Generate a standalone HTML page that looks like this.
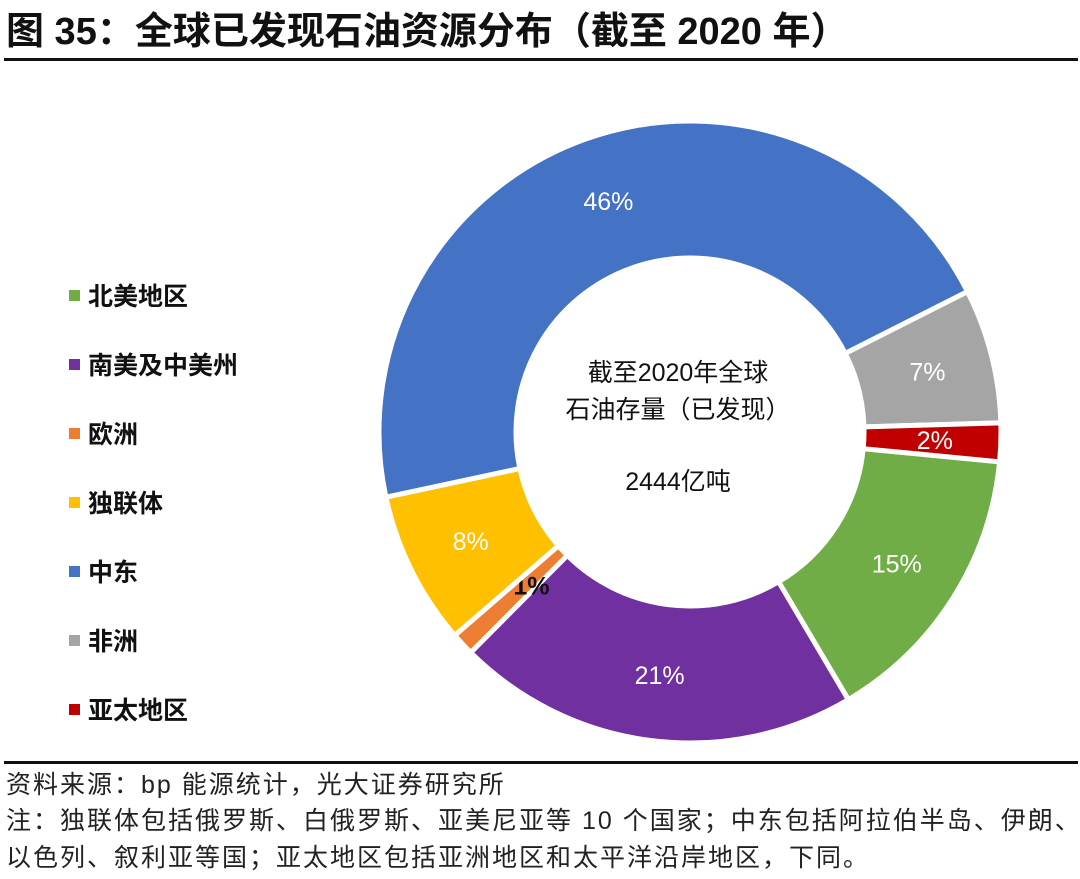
<!DOCTYPE html>
<html><head><meta charset="utf-8">
<style>
body{margin:0;width:1080px;height:879px;background:#fff;overflow:hidden;font-family:"Liberation Sans","Noto Sans CJK SC",sans-serif;}
.abs{position:absolute;white-space:nowrap;}
</style></head><body>
<div class="abs" style="left:6px;top:0px;font-size:38px;font-weight:bold;color:#111;">图 35：全球已发现石油资源分布（截至 2020 年）</div>
<div class="abs" style="left:4px;top:58px;width:1074px;height:3px;background:#111;"></div>
<svg class="abs" id="chart" style="left:0;top:0" width="1080" height="760"></svg>
<div class="abs" style="left:4px;top:761px;width:1074px;height:3px;background:#111;"></div>
<div class="abs" style="left:6px;top:765px;font-size:25px;letter-spacing:2px;color:#222;">资料来源：bp 能源统计，光大证券研究所</div>
<div class="abs" style="left:6px;top:801px;font-size:25px;letter-spacing:2px;color:#222;">注：独联体包括俄罗斯、白俄罗斯、亚美尼亚等 10 个国家；中东包括阿拉伯半岛、伊朗、</div>
<div class="abs" style="left:6px;top:838px;font-size:25px;letter-spacing:2px;color:#222;">以色列、叙利亚等国；亚太地区包括亚洲地区和太平洋沿岸地区，下同。</div>
<script>
const categories=["北美地区","南美及中美州","欧洲","独联体","中东","非洲","亚太地区"];
const values=[15,21,1.2,8,46,7,2];
const labels=["15%","21%","1%","8%","46%","7%","2%"];
const colors=["#70ad47","#7030a0","#ed7d31","#ffc000","#4472c4","#a5a5a5","#c00000"];
const svg=document.getElementById('chart');
const NS='http://www.w3.org/2000/svg';
const cx=690,cy=432,R=311,r=174,start=95.5;
const total=values.reduce((a,b)=>a+b,0);
function pt(a,rad){const t=a*Math.PI/180;return [cx+rad*Math.sin(t),cy-rad*Math.cos(t)];}
let a=start;
values.forEach((v,i)=>{
  const sweep=v/total*360,a2=a+sweep,lg=sweep>180?1:0;
  const p1=pt(a,R),p2=pt(a2,R),p3=pt(a2,r),p4=pt(a,r);
  const path=document.createElementNS(NS,'path');
  path.setAttribute('d',`M${p1[0]},${p1[1]} A${R},${R} 0 ${lg} 1 ${p2[0]},${p2[1]} L${p3[0]},${p3[1]} A${r},${r} 0 ${lg} 0 ${p4[0]},${p4[1]} Z`);
  path.setAttribute('fill',colors[i]);path.setAttribute('stroke','#fff');path.setAttribute('stroke-width','5');
  
  
  svg.appendChild(path);
  const mid=(a+a2)/2;const lp=pt(mid,i===2?225:245);
  const t=document.createElementNS(NS,'text');
  t.setAttribute('x',i===2?lp[0]+6:lp[0]);t.setAttribute('y',lp[1]+9);t.setAttribute('text-anchor','middle');
  t.setAttribute('font-size','25');t.setAttribute('fill',i===2?'#111':'#fff');
  if(i===2)t.setAttribute('font-weight','bold');
  t.textContent=labels[i];
  
  
  svg.appendChild(t);
  a=a2;
});
const center=[["截至2020年全球",381],["石油存量（已发现）",418],["2444亿吨",490]];
center.forEach((c,i)=>{const t=document.createElementNS(NS,'text');t.setAttribute('x',cx-12);t.setAttribute('y',c[1]);t.setAttribute('text-anchor','middle');t.setAttribute('font-size','25');t.setAttribute('fill','#111');t.textContent=c[0];


svg.appendChild(t);});
categories.forEach((c,i)=>{
  const y=296+i*69;
  const rc=document.createElementNS(NS,'rect');rc.setAttribute('x',69);rc.setAttribute('y',y-6);rc.setAttribute('width',11);rc.setAttribute('height',11);rc.setAttribute('fill',colors[i]);
  
  
  svg.appendChild(rc);
  const t=document.createElementNS(NS,'text');t.setAttribute('x',88);t.setAttribute('y',y+9);t.setAttribute('font-size','25');t.setAttribute('font-weight','bold');t.setAttribute('fill','#111');t.textContent=c;
  
  
  svg.appendChild(t);
});
</script>
</body></html>
